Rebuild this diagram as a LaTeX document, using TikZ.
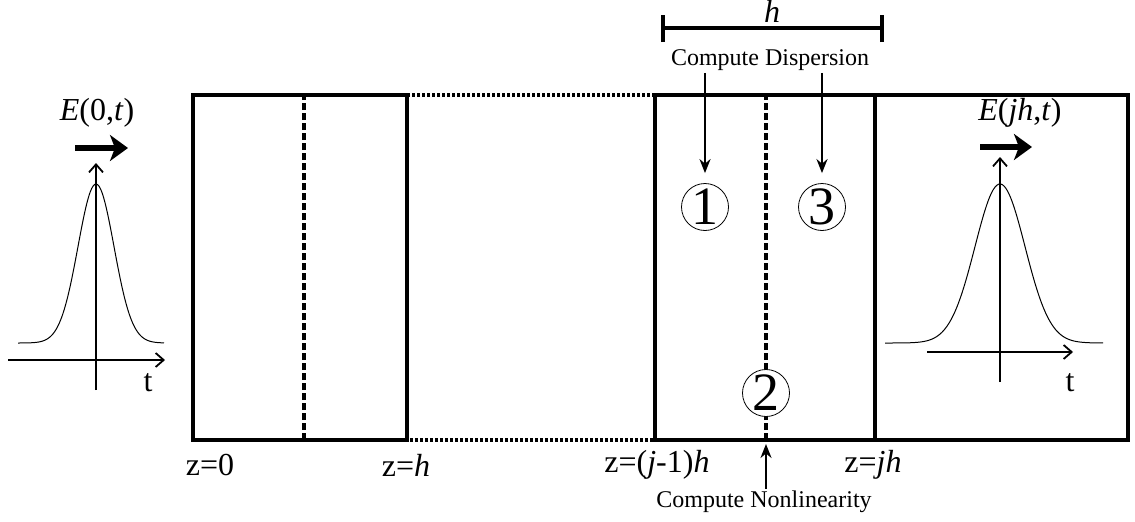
\documentclass[tikz,border=0pt]{standalone}
\usepackage{fontspec}
\setmainfont{Liberation Serif}
\usetikzlibrary{arrows.meta, positioning}

\begin{document}
\begin{tikzpicture}[
  x=0.5pt, y=0.5pt,
  frame/.style={line width=2pt},
  midline/.style={line width=2pt, dash pattern=on 3.5pt off 1.5pt},
  gapline/.style={line width=1.6pt, dash pattern=on 1.5pt off 1pt},
  stagenum/.style={draw, circle, thin, fill=white, minimum size=23.5pt, inner sep=0pt,
                   font=\fontsize{27}{27}\selectfont},
  zlabel/.style={font=\fontsize{16}{16}\selectfont, inner sep=1pt},
  note/.style={font=\fontsize{12}{12}\selectfont, inner sep=1pt},
  arrow/.style={-{Stealth[length=7pt, width=5.5pt]}, line width=1.1pt},
  axis/.style={-{Straight Barb[length=4pt, width=7pt]}, line width=0.9pt},
  pulse/.style={line width=0.5pt},
  motion/.style={-{Stealth[length=9pt, width=13pt, inset=2.5pt]}, line width=3pt},
]
\useasboundingbox (0,0) rectangle (1135,521);

% Fiber sections
\draw[gapline] (407,81) rectangle (655,426);
\draw[frame] (193,81) rectangle (407,426);
\draw[frame] (655,81) rectangle (1128,426);
\draw[frame] (875,81) -- (875,426);
\draw[midline] (304,81) -- (304,426);
\draw[midline] (766,81) -- (766,426);
\coordinate (fiberbottom) at (766,81);

% Step markers
\node[stagenum] (s1) at (705,314) {1};
\node[stagenum] (s3) at (822,314) {3};
\node[stagenum] (s2) at (766,128) {2};

% Step length
\draw[frame] (663,493) -- (882,493);
\draw[frame] (663,479) -- (663,506);
\draw[frame] (882,479) -- (882,506);
\node[zlabel, anchor=base] (hlen) at (772,499) {\textit{h}};

% Operations
\node[note] (disp) at (770,461) {Compute Dispersion};
\node[note] (nonlin) at (764,19) {Compute Nonlinearity};
\draw[arrow, shorten >=5pt] (disp.south -| s1) -- (s1.north);
\draw[arrow, shorten >=5pt] (disp.south -| s3) -- (s3.north);
\draw[arrow, shorten >=2pt] (nonlin.north -| s2) -- (fiberbottom);

% Positions
\node[zlabel] (z0) at (210,56) {z=0};
\node[zlabel] (z1) at (406,56) {z=\textit{h}};
\node[zlabel] (zj1) at (657,56) {z=(\textit{j}-1)\textit{h}};
\node[zlabel] (zj) at (873,56) {z=\textit{jh}};

% Input pulse
\draw[axis] (8,161) -- (165,161);
\draw[axis] (96,131) -- (96,358);
\draw[pulse] plot[domain=-78:68, samples=100, smooth] ({96+\x},{178+159*exp(-0.5*(\x/18)^2)});
\node[zlabel] (tin) at (148,138) {t};
\node[zlabel] (ein) at (97,408) {\textit{E}(0,\textit{t})};
\draw[motion] (75,373) -- (128,373);

% Output pulse
\draw[axis] (927,169) -- (1073,169);
\draw[axis] (1000,139) -- (1000,364);
\draw[pulse] plot[domain=-115:103, samples=120, smooth] ({1000+\x},{178+159*exp(-0.5*(\x/25)^2)});
\node[zlabel] (tout) at (1070,138) {t};
\node[zlabel] (eout) at (1020,408) {\textit{E}(\textit{jh},\textit{t})};
\draw[motion] (980,374) -- (1032,374);

\end{tikzpicture}
\end{document}
